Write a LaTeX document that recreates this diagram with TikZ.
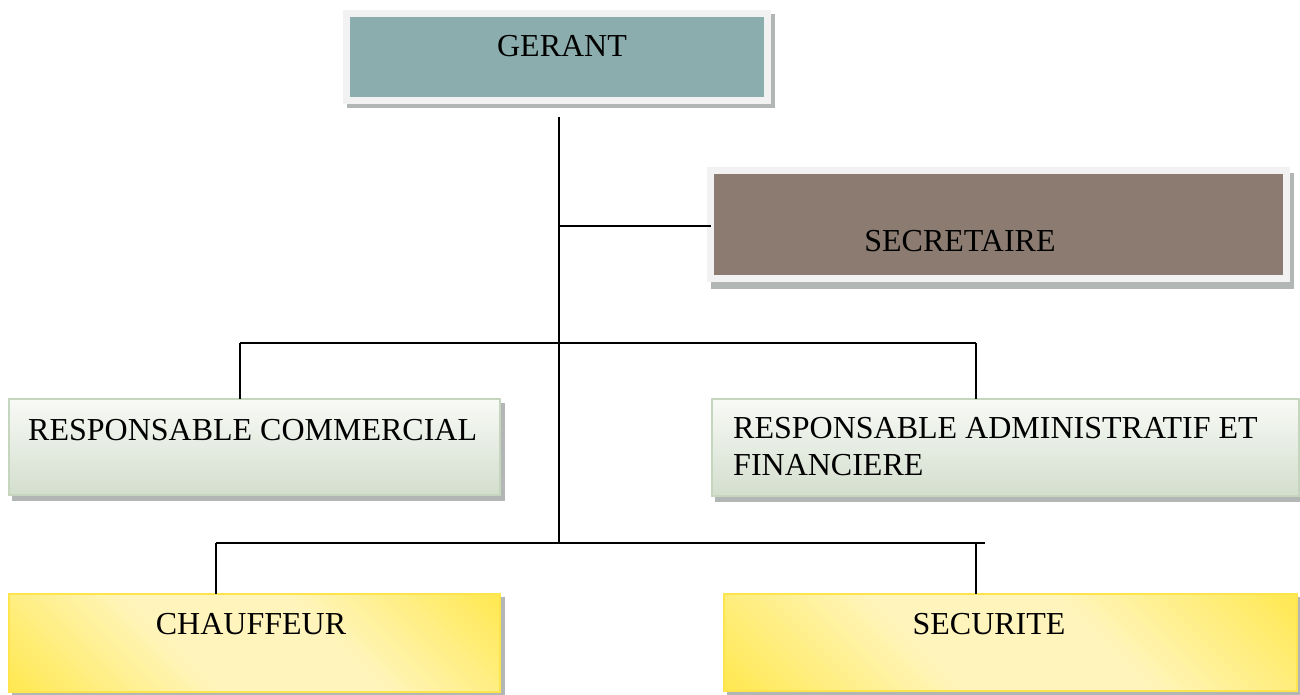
\documentclass[tikz,border=0pt]{standalone}
\usepackage{fontspec}
\setmainfont{Liberation Serif}
\definecolor{tealc}{HTML}{8BADAD}
\definecolor{brownc}{HTML}{8B7B71}
\definecolor{rimc}{HTML}{F2F2F2}
\definecolor{shadc}{HTML}{B2B6B4}
\definecolor{greentop}{HTML}{F8FAF6}
\definecolor{greenbot}{HTML}{D3DECD}
\definecolor{greenrim}{HTML}{C6D6BE}
\definecolor{ydark}{HTML}{FFE745}
\definecolor{ylight}{HTML}{FFF5BC}
\definecolor{yrim}{HTML}{FFE54D}
\pgfdeclareverticalshading{yelshade}{100bp}{color(0bp)=(ydark); color(12bp)=(ydark); color(40bp)=(ylight); color(60bp)=(ylight); color(88bp)=(ydark); color(100bp)=(ydark)}
\begin{document}
\begin{tikzpicture}[x=1pt,y=-1pt,
  lbl/.style={font=\fontsize{32}{37}\selectfont, inner sep=0pt, text=black},
  topbox/.style={rectangle, draw=rimc, line width=7pt, inner sep=0pt, outer sep=0pt},
  greenbox/.style={rectangle, draw=greenrim, line width=2.5pt, top color=greentop, bottom color=greenbot, inner sep=0pt, outer sep=0pt},
  yellowbox/.style={rectangle, draw=yrim, line width=2.5pt, shading=yelshade, shading angle=-45, inner sep=0pt, outer sep=0pt},
  shadow/.style={fill=shadc},
  conn/.style={draw=black, line width=2pt}]
\useasboundingbox (0,0) rectangle (1300,695);

% shadows
\fill[shadow] (347,14) rectangle (775,108);
\fill[shadow] (711,173) rectangle (1294,289);
\fill[shadow] (12,403) rectangle (505,501);
\fill[shadow] (715,403) rectangle (1300,502);
\fill[shadow] (12,597) rectangle (505,695);
\fill[shadow] (727,597) rectangle (1300,695);

% boxes
\node[topbox, fill=tealc, minimum width=421pt, minimum height=87pt] (ger) at (557,57) {};
\node[lbl] (gert) at (562,46) {GERANT};

\node[topbox, fill=brownc, minimum width=576pt, minimum height=108pt] (sec) at (998.5,224.5) {};
\node[lbl] (sect) at (960,241) {SECRETAIRE};

\node[greenbox, minimum width=491pt, minimum height=96pt] (com) at (254.5,447) {};
\node[lbl, anchor=west] (comt) at (28,430) {RESPONSABLE COMMERCIAL};

\node[greenbox, minimum width=587pt, minimum height=97pt] (adm) at (1005.5,447.5) {};
\node[lbl, anchor=north west, align=left] (admt) at (733,417.5) {RESPONSABLE ADMINISTRATIF ET\\FINANCIERE};

\node[yellowbox, minimum width=491pt, minimum height=98pt] (chf) at (254.5,643) {};
\node[lbl] (chft) at (251,624) {CHAUFFEUR};

\node[yellowbox, minimum width=573pt, minimum height=97pt] (secu) at (1010.5,642.5) {};
\node[lbl] (secut) at (989,624) {SECURITE};

% connectors
\coordinate (trunkTop) at (559,117);
\coordinate (jSec) at (559,226);
\coordinate (j2) at (559,543);
\draw[conn] (trunkTop) -- (j2);
\draw[conn] (jSec) -- (jSec -| sec.west);

\coordinate (l1) at (240,343);
\coordinate (r1) at (976,343);
\draw[conn] (l1) -- (r1);
\draw[conn] (l1) -- (l1 |- com.north);
\draw[conn] (r1) -- (r1 |- adm.north);

\coordinate (l2) at (216,543);
\coordinate (r2) at (985,543);
\coordinate (r2v) at (976,543);
\draw[conn] (l2) -- (r2);
\draw[conn] (l2) -- (l2 |- chf.north);
\draw[conn] (r2v) -- (r2v |- secu.north);
\end{tikzpicture}
\end{document}
